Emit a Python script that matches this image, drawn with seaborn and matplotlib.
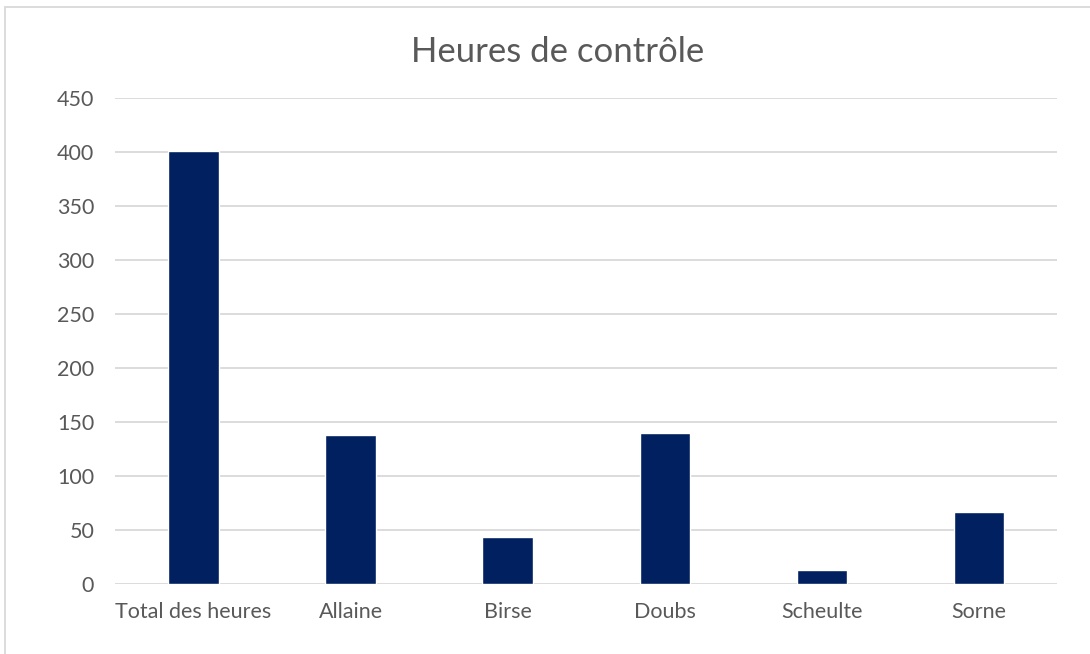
import pandas as pd
import seaborn as sns
import matplotlib.pyplot as plt
from matplotlib.patches import Rectangle

# data
categories = ['Total des heures', 'Allaine', 'Birse', 'Doubs', 'Scheulte', 'Sorne']
heures = [401, 138, 44, 140, 13, 67]
yticks = [0, 50, 100, 150, 200, 250, 300, 350, 400, 450]

df = pd.DataFrame({'riviere': categories, 'heures': heures})

sns.set_style('white')
plt.rcParams['font.family'] = ['Lato', 'DejaVu Sans']

fig = plt.figure(figsize=(10.9, 6.54), dpi=100)
ax = fig.add_axes([0.1055, 0.107, 0.8645, 0.743])

sns.barplot(data=df, x='riviere', y='heures', color='#002060',
            width=0.32, saturation=1, ax=ax)

ax.set_ylim(0, 450)
ax.set_yticks(yticks)
ax.grid(axis='y', color='#d9d9d9', linewidth=1.3)
ax.set_axisbelow(True)
for s in ax.spines.values():
    s.set_visible(False)
ax.tick_params(axis='both', length=0, labelsize=15.5, colors='#595959')
ax.tick_params(axis='x', pad=13)
ax.tick_params(axis='y', pad=15)
ax.set_xlabel('')
ax.set_ylabel('')

fig.text(558 / 1090, 1 - 52 / 654, 'Heures de contrôle', ha='center', va='center',
         fontsize=25, color='#595959')

# chart frame like the spreadsheet chart border
fig.patches.append(Rectangle((5 / 1090, -0.1), 1.2, 1.1 - 7 / 654,
                             transform=fig.transFigure, fill=False,
                             edgecolor='#d9d9d9', linewidth=1.3))

fig.savefig('out.png', dpi=100)
